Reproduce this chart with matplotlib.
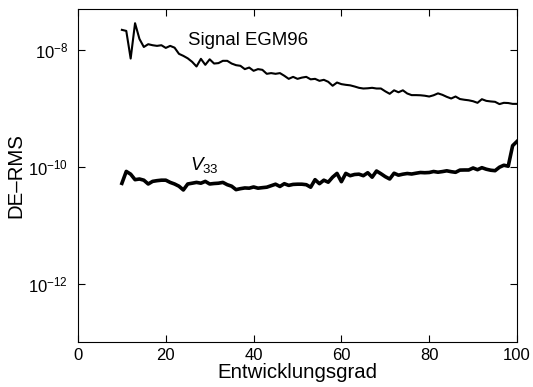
import numpy as np
import matplotlib
matplotlib.use("Agg")
import matplotlib.pyplot as plt

plt.rcParams["font.family"] = ["Liberation Sans", "DejaVu Sans"]
plt.rcParams["mathtext.fontset"] = "custom"
plt.rcParams["mathtext.rm"] = "Liberation Sans"
plt.rcParams["mathtext.it"] = "Liberation Sans:italic"
plt.rcParams["axes.unicode_minus"] = True

# Entwicklungsgrad 10..100
degree = list(range(10, 101))

signal_egm96 = [
    2.20e-8, 2.11e-8, 7.10e-9, 2.86e-8, 1.54e-8, 1.12e-8, 1.25e-8, 1.20e-8, 1.17e-8, 1.20e-8,
    1.08e-8, 1.17e-8, 1.09e-8, 8.55e-9, 7.89e-9, 7.16e-9, 6.24e-9, 5.19e-9, 7.02e-9, 5.54e-9,
    6.89e-9, 5.83e-9, 5.93e-9, 6.49e-9, 6.49e-9, 5.83e-9, 5.47e-9, 5.33e-9, 4.68e-9, 4.98e-9,
    4.38e-9, 4.68e-9, 4.55e-9, 3.89e-9, 4.00e-9, 3.89e-9, 4.00e-9, 3.60e-9, 3.19e-9, 3.45e-9,
    3.19e-9, 3.35e-9, 3.45e-9, 3.13e-9, 3.19e-9, 2.95e-9, 3.07e-9, 2.84e-9, 2.43e-9, 2.76e-9,
    2.59e-9, 2.52e-9, 2.47e-9, 2.36e-9, 2.24e-9, 2.18e-9, 2.20e-9, 2.24e-9, 2.18e-9, 2.18e-9,
    1.95e-9, 1.77e-9, 2.03e-9, 1.88e-9, 2.03e-9, 1.79e-9, 1.68e-9, 1.68e-9, 1.67e-9, 1.64e-9,
    1.59e-9, 1.67e-9, 1.80e-9, 1.70e-9, 1.57e-9, 1.47e-9, 1.59e-9, 1.44e-9, 1.40e-9, 1.37e-9,
    1.32e-9, 1.24e-9, 1.43e-9, 1.34e-9, 1.31e-9, 1.29e-9, 1.18e-9, 1.24e-9, 1.23e-9, 1.19e-9,
    1.19e-9,
]

v33 = [
    5.19e-11, 8.31e-11, 7.45e-11, 6.00e-11, 6.16e-11, 5.88e-11, 5.06e-11, 5.61e-11, 5.77e-11, 5.88e-11,
    5.88e-11, 5.39e-11, 5.06e-11, 4.64e-11, 4.00e-11, 5.06e-11, 5.22e-11, 5.39e-11, 5.22e-11, 5.61e-11,
    5.06e-11, 5.16e-11, 5.22e-11, 5.39e-11, 4.92e-11, 4.64e-11, 4.05e-11, 4.21e-11, 4.33e-11, 4.29e-11,
    4.50e-11, 4.29e-11, 4.38e-11, 4.46e-11, 4.73e-11, 5.02e-11, 4.59e-11, 5.12e-11, 4.79e-11, 4.98e-11,
    5.02e-11, 5.02e-11, 4.92e-11, 4.46e-11, 6.00e-11, 5.12e-11, 5.88e-11, 5.43e-11, 6.62e-11, 7.68e-11,
    5.54e-11, 7.68e-11, 7.02e-11, 7.36e-11, 7.45e-11, 7.02e-11, 7.89e-11, 6.62e-11, 8.44e-11, 7.59e-11,
    6.75e-11, 6.16e-11, 7.74e-11, 7.16e-11, 7.45e-11, 7.65e-11, 7.50e-11, 7.74e-11, 7.96e-11, 7.89e-11,
    7.96e-11, 8.28e-11, 8.05e-11, 8.25e-11, 8.51e-11, 8.22e-11, 8.02e-11, 8.75e-11, 8.79e-11, 8.79e-11,
    9.51e-11, 8.89e-11, 9.62e-11, 9.06e-11, 8.71e-11, 8.55e-11, 9.80e-11, 1.06e-10, 1.02e-10, 2.29e-10,
    2.71e-10,
]

x_ticks = [0, 20, 40, 60, 80, 100]
y_ticks = [1e-12, 1e-10, 1e-8]

fig = plt.figure(figsize=(5.33, 3.87), dpi=100)
ax = fig.add_axes([0.1463, 0.1163, 0.8237, 0.8604])

ax.semilogy(degree, signal_egm96, color="black", linewidth=1.5)
ax.semilogy(degree, v33, color="black", linewidth=2.6)

ax.text(25, 1.43e-8, "Signal EGM96", fontsize=13.4, va="center", ha="left")
ax.text(25.6, 1.05e-10, r"$V_{33}$", fontsize=13.6, va="center", ha="left")

ax.set_xlim(0, 100)
ax.set_ylim(1e-13, 5e-8)
ax.set_xticks(x_ticks)
ax.set_yticks(y_ticks)
ax.minorticks_off()
ax.tick_params(direction="in", top=True, right=True, length=5, labelsize=12)
ax.tick_params(axis="x", pad=4)
ax.tick_params(axis="y", pad=7)

ax.set_xlabel("Entwicklungsgrad", fontsize=14.7, labelpad=0)
ax.set_ylabel("DE\u2013RMS", fontsize=14.7, labelpad=2)

fig.savefig("out.png", dpi=100)
